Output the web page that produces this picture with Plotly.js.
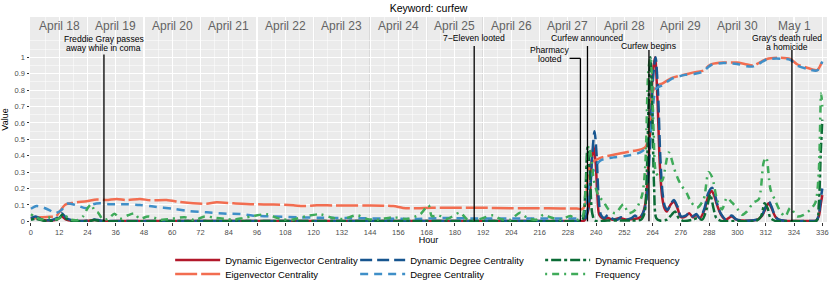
<!DOCTYPE html>
<html><head><meta charset="utf-8">
<script src="https://cdn.plot.ly/plotly-3.0.1.min.js"></script>
<style>html,body{margin:0;padding:0;background:#fff}#chart{width:830px;height:297px}</style>
</head><body><div id="chart"></div>
<script>
// ---------------- DATA ----------------
const hoursDynEig = [0,2,5,9,11,13,15,18,24,27,30,40,60,100,140,180,220,232,235,236.8,238,238.9,239.8,240.5,241.3,243,245,247,250,253,256,258,259.5,261,262,263,264,265,266,267,268,269,270,271.5,273,274.5,276,278,279.5,281,282.5,284,286,287.5,289,290,291.3,293,295,297.5,299.5,302,306,308.5,310.5,312,313.2,314.5,316,317.5,320,325,330,333.5,334.5,335.3,336];
const dynEig = [0.015,0.02,0.008,0.005,0.01,0.03,0.01,0.003,0.003,0.008,0.002,0.002,0.002,0.002,0.002,0.002,0.002,0.002,0.005,0.08,0.35,0.46,0.35,0.16,0.04,0.015,0.02,0.01,0.02,0.01,0.015,0.02,0.04,0.12,0.3,0.6,0.9,1.0,0.75,0.35,0.15,0.08,0.06,0.1,0.12,0.08,0.025,0.03,0.05,0.025,0.04,0.02,0.07,0.15,0.185,0.16,0.1,0.04,0.01,0.03,0.01,0.005,0.005,0.01,0.035,0.08,0.11,0.08,0.03,0.01,0.003,0.002,0.002,0.005,0.03,0.1,0.16];

const hoursEig = [0,4,8,10.5,12.3,14.4,18,23.6,28,32,36.4,40.6,46.3,50.6,57.6,63.3,68.9,74.6,78.9,85.9,94.4,103,111.4,115.6,121.4,128.4,142.6,153.8,158,164,170,180,190,203.5,215,225,231.8,234,235.3,236.6,238,240,242.4,247,252.3,256,259.4,261,262,263,264,265.5,268,272.2,277.8,282,285.6,287.5,289,294,299.8,303,306.8,309,312.5,318.2,322.4,325.3,329.5,333.8,336];
const eig = [0.02,0.025,0.028,0.03,0.06,0.1,0.113,0.123,0.133,0.13,0.137,0.13,0.137,0.128,0.13,0.118,0.11,0.108,0.116,0.11,0.104,0.103,0.098,0.093,0.098,0.097,0.097,0.093,0.082,0.08,0.083,0.083,0.083,0.08,0.08,0.079,0.078,0.075,0.1,0.3,0.36,0.375,0.39,0.405,0.42,0.43,0.44,0.455,0.5,0.65,0.79,0.825,0.84,0.875,0.895,0.91,0.92,0.945,0.958,0.968,0.968,0.96,0.95,0.965,0.99,0.998,0.99,0.958,0.937,0.922,0.978];

const hoursDynDeg = [0,2,5,9,11,13,15,18,24,27,30,40,60,100,140,180,220,232,235,237,238.3,239.3,240.2,241,242,243.5,245,247,249,250.5,252.5,255,256.5,258,259.5,261,262,263,264,265.2,266.2,267.2,268.2,269.2,270.3,271.8,273,274.5,276,278,279.5,281,282.5,284,286,287.5,289.2,290.3,291.5,293,295,297.5,299.5,302,306,308.5,310.5,312,313.3,314.6,316,317.5,320,330,333.5,334.5,335.3,336];
const dynDeg = [0.02,0.03,0.01,0.008,0.02,0.05,0.02,0.005,0.003,0.012,0.003,0.002,0.002,0.002,0.002,0.002,0.002,0.002,0.01,0.12,0.4,0.55,0.4,0.15,0.04,0.02,0.04,0.015,0.01,0.025,0.01,0.02,0.035,0.02,0.04,0.1,0.25,0.5,0.85,1.0,0.8,0.4,0.17,0.09,0.07,0.11,0.13,0.09,0.03,0.035,0.05,0.03,0.045,0.02,0.08,0.17,0.205,0.17,0.1,0.045,0.012,0.035,0.012,0.005,0.005,0.012,0.04,0.09,0.12,0.085,0.03,0.01,0.003,0.002,0.005,0.04,0.13,0.2];

const hoursDeg = [0,2.4,4.5,8,10.2,13,15.2,19.4,23.6,26.5,29.3,33.6,40.6,46.3,52,60.5,67.5,74.6,83.1,88.8,94.4,103,114.3,122.8,135.5,149.6,163.8,175,185,202,228,233,235.3,236.8,238.9,241.7,247.4,253,258.7,261.5,263.5,264.5,265.5,268,272.2,277.8,282,285.6,287.5,289,294,299.8,304,306.8,309,312.5,318.2,322.4,325.3,329.5,333.8,336];
const deg = [0.077,0.093,0.088,0.067,0.049,0.07,0.108,0.098,0.08,0.104,0.11,0.104,0.104,0.1,0.09,0.077,0.062,0.055,0.047,0.045,0.034,0.03,0.024,0.022,0.02,0.017,0.015,0.02,0.018,0.018,0.018,0.02,0.05,0.2,0.31,0.37,0.39,0.4,0.42,0.455,0.58,0.75,0.81,0.83,0.87,0.893,0.9,0.915,0.94,0.955,0.965,0.96,0.945,0.945,0.96,0.988,0.992,0.985,0.95,0.93,0.92,0.975];

const hoursDynFreq = [0,2,5,10,12,13.3,14.5,17,25,27,30,60,120,180,230,234,235.3,236.3,237.3,238.3,239.5,245,250,255,259,260.5,261.5,262.3,263,263.8,264.6,265.5,267,270,272,273.5,275,277,281,283,285,287,288.4,289.8,291,293,300,308,310,311.5,312.8,314,316,325,333.5,334.5,335.3,336];
const dynFreq = [0.01,0.015,0.005,0.005,0.02,0.04,0.02,0.003,0.003,0.008,0.002,0.002,0.002,0.002,0.002,0.005,0.15,0.45,0.3,0.05,0.005,0.005,0.005,0.005,0.01,0.05,0.3,0.75,1.0,0.7,0.2,0.02,0.005,0.01,0.04,0.06,0.02,0.003,0.01,0.02,0.01,0.08,0.165,0.08,0.02,0.003,0.002,0.003,0.03,0.11,0.08,0.02,0.003,0.002,0.003,0.1,0.4,0.62];

const hoursFreq = [0,1.6,4.4,7.2,9.5,11.5,14.3,16.4,20,22.1,24.2,25.6,27,28.5,30.6,32.7,35.5,37.7,41.2,44,46.2,49.7,55.4,59.6,65.3,69.5,73.8,78,82.3,86,90,94.4,100,105.8,110.7,117.1,122.8,128.4,132.7,138.4,142.6,146.9,153.9,159.6,165.3,168.8,170.2,173,176.6,182.2,185,189.3,196.4,199.2,203.5,207.7,210.6,214.8,217.6,220.5,224.7,229,231.8,234,235.5,236.8,238,239,241,243.1,245.2,248.1,251.6,253.7,256.6,259.4,260.8,262.2,263.1,264.4,265.4,267.9,270.8,273.6,275.7,278.5,280,282.8,285.6,287.7,289.2,291.3,293.4,295.5,297.6,299.8,301.9,304,306.8,309,311.1,312.2,314,316.1,318.2,320.3,322.4,325.3,328.1,331,333.1,334.5,335.5,336];
const freq = [0.043,0.03,0.012,0.025,0.012,0.015,0.037,0.012,0.008,0.03,0.083,0.104,0.065,0.053,0.01,0.015,0.047,0.015,0.037,0.047,0.015,0.03,0.01,0.015,0.025,0.008,0.03,0.022,0.015,0.01,0.02,0.032,0.043,0.015,0.01,0.032,0.043,0.02,0.015,0.037,0.015,0.01,0.025,0.015,0.043,0.098,0.032,0.037,0.015,0.053,0.015,0.01,0.037,0.015,0.01,0.053,0.022,0.01,0.04,0.025,0.01,0.032,0.01,0.02,0.2,0.46,0.38,0.25,0.155,0.12,0.073,0.05,0.104,0.05,0.07,0.155,0.33,0.93,1.0,0.54,0.3,0.246,0.42,0.3,0.23,0.17,0.124,0.083,0.134,0.3,0.27,0.134,0.073,0.144,0.115,0.08,0.04,0.06,0.115,0.134,0.36,0.39,0.195,0.124,0.06,0.03,0.083,0.03,0.04,0.073,0.115,0.3,0.78,0.7];

const seriesNames = ['Dynamic Eigenvector Centrality','Eigenvector Centrality','Dynamic Degree Centrality','Degree Centrality','Dynamic Frequency','Frequency'];

const xTicks = [0,12,24,36,48,60,72,84,96,108,120,132,144,156,168,180,192,204,216,228,240,252,264,276,288,300,312,324,336];
const yTicks = [0,0.1,0.2,0.3,0.4,0.5,0.6,0.7,0.8,0.9,1];
const yTickLabels = ['0','0.1','0.2','0.3','0.4','0.5','0.6','0.7','0.8','0.9','1'];
const yMinorTicks = [0.05,0.15,0.25,0.35,0.45,0.55,0.65,0.75,0.85,0.95,1.05,1.1];
const dayLabels = ['April 18','April 19','April 20','April 21','April 22','April 23','April 24','April 25','April 26','April 27','April 28','April 29','April 30','May 1'];
const dayCenters = [12,36,60,84,108,132,156,180,204,228,252,276,300,324];
const dayBoundaries = [24,48,72,96,120,144,168,192,216,240,264,288,312];
const eventHours = [31,188.2,233.3,236.3,262.4,323.1];
const eventLabels = ['Freddie Gray passes\naway while in coma','7\u2212Eleven looted','Pharmacy\nlooted','Curfew announced','Curfew begins',"Gray's death ruled\na homicide"];

// ---------------- STYLE ----------------
const styles = [
  {color:'#b2182b', dash:'solid'},
  {color:'#f26d50', dash:'22px,4px'},
  {color:'#17558f', dash:'12px,5px'},
  {color:'#3f8fc8', dash:'8px,6px'},
  {color:'#0b6b35', dash:'3px,3px,10px,3px'},
  {color:'#3fab5a', dash:'2px,5px,7px,5px'}
];
const legendOf = ['legend','legend2','legend','legend2','legend','legend2'];
const eventPlace = [
  {labelY:1.083, top:1.018},
  {labelY:1.12, top:1.069},
  {labelY:1.016, top:0.994, labelX:220.3, connectFrom:228.7},
  {labelY:1.12, top:1.069},
  {labelY:1.067, top:1.045},
  {labelY:1.092, top:1.045, labelX:321}
];

const xs = [hoursDynEig,hoursEig,hoursDynDeg,hoursDeg,hoursDynFreq,hoursFreq];
const ys = [dynEig,eig,dynDeg,deg,dynFreq,freq];
const traces = seriesNames.map((n,i)=>({
  type:'scatter', mode:'lines', name:n, x:xs[i], y:ys[i],
  line:{color:styles[i].color, dash:styles[i].dash, width:2.5, shape:'spline', smoothing:0.8},
  legend:legendOf[i]
}));

const font = 'Liberation Sans, Arial, Helvetica, sans-serif';
const shapes = [];
dayBoundaries.forEach(h=>shapes.push({type:'line', xref:'x', yref:'paper', x0:h, x1:h, y0:0, y1:1, layer:'between', line:{color:'#c2c2c2', width:1}}));
eventHours.forEach((h,i)=>{
  const p = eventPlace[i];
  shapes.push({type:'line', xref:'x', yref:'y', x0:h, x1:h, y0:0, y1:p.top, layer:'above', line:{color:'#000', width:1.3}});
  if (p.connectFrom !== undefined) shapes.push({type:'line', xref:'x', yref:'y', x0:p.connectFrom, x1:h, y0:p.top, y1:p.top, layer:'above', line:{color:'#000', width:1.3}});
});

const annotations = [];
dayLabels.forEach((t,i)=>annotations.push({x:dayCenters[i], y:0.955, xref:'x', yref:'paper', text:t, showarrow:false, xanchor:'center', yanchor:'middle', font:{family:font, size:12, color:'#636363'}}));
eventLabels.forEach((t,i)=>{
  const p = eventPlace[i];
  const lines = t.split('\n');
  const sp = 8.6;
  lines.forEach((ln,k)=>{
    annotations.push({x:(p.labelX!==undefined?p.labelX:eventHours[i]), y:p.labelY, xref:'x', yref:'y', text:ln, showarrow:false, xanchor:'center', yanchor:'middle', borderpad:0, yshift:((lines.length-1)/2 - k)*sp, font:{family:font, size:8.6, color:'#000'}});
  });
});

const legendBase = {orientation:'h', xref:'container', yref:'container', x:0.205, xanchor:'left', yanchor:'middle', itemwidth:45, entrywidth:125, entrywidthmode:'pixels', font:{family:font, size:9.5, color:'#000'}, bgcolor:'rgba(0,0,0,0)', borderwidth:0, tracegroupgap:0};

const layout = {
  width:830, height:297,
  margin:{l:30, r:3, t:17, b:75},
  paper_bgcolor:'#fff', plot_bgcolor:'#ebebeb',
  font:{family:font, color:'#000'},
  showlegend:true,
  title:{text:'Keyword: curfew', font:{family:font, size:10.5, color:'#000'}, x:0.5, xref:'paper', xanchor:'center', y:1-8.5/297, yref:'container', yanchor:'middle'},
  xaxis:{range:[-0.4,338], tickmode:'array', tickvals:xTicks, ticks:'outside', ticklen:2.5, tickwidth:1, tickcolor:'#333', tickfont:{family:font, size:7.5, color:'#4d4d4d'},
    showgrid:true, gridcolor:'#ffffff', gridwidth:1.1, zeroline:false, showline:false,
    minor:{dtick:6, tick0:0, showgrid:true, gridcolor:'#ffffff', gridwidth:0.5, ticks:''},
    title:{text:'Hour', font:{family:font, size:9, color:'#000'}, standoff:3}},
  yaxis:{range:[-0.004,1.246], tickmode:'array', tickvals:yTicks, ticktext:yTickLabels, ticks:'outside', ticklen:2.5, tickwidth:1, tickcolor:'#333', tickfont:{family:font, size:7.5, color:'#4d4d4d'},
    showgrid:true, gridcolor:'#ffffff', gridwidth:1.1, zeroline:false, showline:false,
    minor:{tickmode:'array', tickvals:yMinorTicks, showgrid:true, gridcolor:'#ffffff', gridwidth:0.5, ticks:''},
    title:{text:'Value', font:{family:font, size:9, color:'#000'}, standoff:6}},
  legend:Object.assign({}, legendBase, {y:1-260/297}),
  legend2:Object.assign({}, legendBase, {y:1-274/297}),
  shapes:shapes,
  annotations:annotations
};
Plotly.newPlot('chart', traces, layout, {staticPlot:true, displayModeBar:false});
</script>
</body></html>
